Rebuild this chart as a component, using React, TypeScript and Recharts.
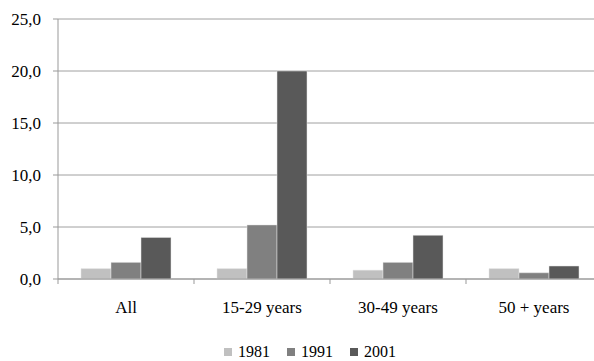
import { BarChart, Bar, XAxis, YAxis, CartesianGrid, Legend } from 'recharts'

const categories = ['All', '15-29 years', '30-49 years', '50 + years']
const years = ['1981', '1991', '2001']
const values1981 = [1.0, 1.0, 0.85, 1.0]
const values1991 = [1.6, 5.2, 1.6, 0.6]
const values2001 = [4.0, 20.0, 4.2, 1.25]
const yTicks = [0, 5, 10, 15, 20, 25]
const colors = ['#c0c0c0', '#808080', '#595959']

const data = categories.map((name, i) => ({
  name,
  '1981': values1981[i],
  '1991': values1991[i],
  '2001': values2001[i],
}))

const CHART_W = 602
const CHART_H = 361
const Y_AXIS_W = 58
const LABEL_GAP = 22
const FONT = "'Liberation Serif', 'DejaVu Serif', serif"
const band = (CHART_W - Y_AXIS_W) / categories.length

function CategoryTick(props: any) {
  const { x, y, payload, index } = props
  const axisY = y - LABEL_GAP
  const left = x - band / 2
  return (
    <g>
      <line x1={left} y1={axisY} x2={left} y2={axisY + 5} stroke="#999" />
      {index === categories.length - 1 && (
        <line x1={left + band} y1={axisY} x2={left + band} y2={axisY + 5} stroke="#999" />
      )}
      <text x={x} y={y} dy="0.71em" textAnchor="middle" style={{ fontFamily: FONT, fontSize: 17 }} fill="#000">
        {payload.value}
      </text>
    </g>
  )
}

function LegendContent() {
  return (
    <div
      style={{
        height: 18,
        display: 'flex',
        justifyContent: 'center',
        alignItems: 'center',
        paddingLeft: 18,
        fontFamily: FONT,
        fontSize: 16,
        color: '#000',
      }}
    >
      {years.map((y, i) => (
        <span key={y} style={{ display: 'flex', alignItems: 'center', marginRight: i < years.length - 1 ? 17 : 0 }}>
          <span style={{ width: 8, height: 8, background: colors[i], display: 'inline-block', marginRight: 6 }} />
          {y}
        </span>
      ))}
    </div>
  )
}

export default function App() {
  return (
    <div style={{ position: 'absolute', left: 0, top: 0, width: 594, height: 361, overflow: 'hidden', background: '#fff', fontFamily: FONT }}>
      <BarChart
        width={CHART_W}
        height={CHART_H}
        data={data}
        margin={{ top: 19, right: 0, bottom: 0, left: 0 }}
        barGap={0}
        barSize={30}
        style={{ fontFamily: FONT }}
      >
        <CartesianGrid vertical={false} stroke="#a0a0a0" />
        <XAxis
          dataKey="name"
          height={64}
          stroke="#999"
          tickLine={false}
          tickSize={0}
          tickMargin={LABEL_GAP}
          tick={<CategoryTick />}
          interval={0}
        />
        <YAxis
          width={Y_AXIS_W}
          domain={[0, 25]}
          ticks={yTicks}
          stroke="#999"
          tickSize={5}
          tickMargin={12}
          tick={{ fill: '#000', fontSize: 17, style: { fontFamily: FONT } }}
          tickFormatter={(v: number) => v.toFixed(1).replace('.', ',')}
        />
        <Legend verticalAlign="bottom" content={<LegendContent />} />
        {years.map((y, i) => (
          <Bar key={y} dataKey={y} fill={colors[i]} stroke="#e6e6e6" strokeWidth={0.5} isAnimationActive={false} />
        ))}
      </BarChart>
    </div>
  )
}
